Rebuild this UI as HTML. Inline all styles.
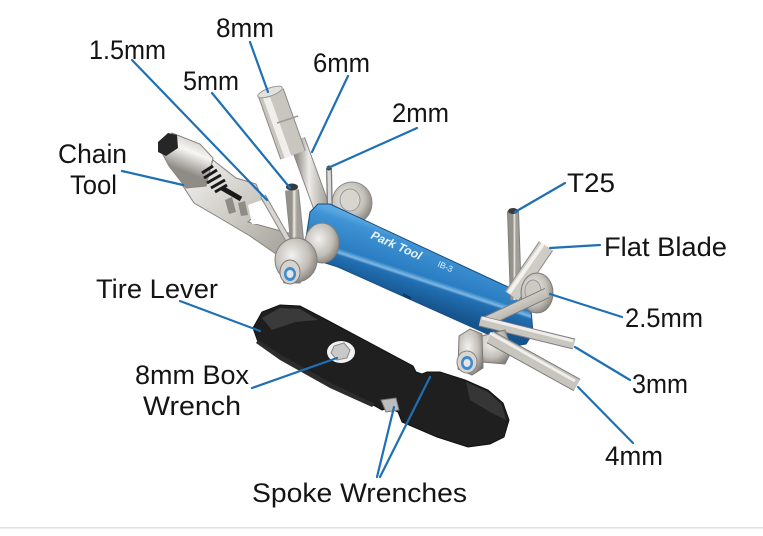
<!DOCTYPE html>
<html><head><meta charset="utf-8"><style>
html,body{margin:0;padding:0;background:#fff;}
svg{display:block;}
</style></head><body>
<svg width="763" height="536" viewBox="0 0 763 536" xmlns="http://www.w3.org/2000/svg">
<defs>
<linearGradient id="m" x1="0" y1="0" x2="1" y2="1">
<stop offset="0" stop-color="#f4f3f0"/><stop offset="0.45" stop-color="#cbc8c2"/><stop offset="1" stop-color="#8b8781"/>
</linearGradient>
<linearGradient id="m2" x1="0" y1="0" x2="1" y2="0">
<stop offset="0" stop-color="#95918b"/><stop offset="0.4" stop-color="#eeece8"/><stop offset="1" stop-color="#a39f98"/>
</linearGradient>
<linearGradient id="cyl" gradientUnits="userSpaceOnUse" x1="180" y1="135" x2="168" y2="165">
<stop offset="0" stop-color="#d9d6d0"/><stop offset="0.35" stop-color="#f7f6f3"/><stop offset="1" stop-color="#8f8b85"/>
</linearGradient>
<linearGradient id="bl" gradientUnits="userSpaceOnUse" x1="425" y1="240" x2="405" y2="300">
<stop offset="0" stop-color="#5aa8e2"/><stop offset="0.12" stop-color="#3f93d4"/><stop offset="0.55" stop-color="#2a7dc1"/><stop offset="0.62" stop-color="#7fb8e4"/><stop offset="0.66" stop-color="#2270b3"/><stop offset="1" stop-color="#16548e"/>
</linearGradient>
<radialGradient id="nut" cx="0.4" cy="0.4" r="0.7">
<stop offset="0" stop-color="#f3f2ef"/><stop offset="0.6" stop-color="#c2beb7"/><stop offset="1" stop-color="#7a766f"/>
</radialGradient>
</defs>

<rect x="0" y="0" width="763" height="536" fill="#fff"/>
<rect x="0" y="527" width="763" height="1.5" fill="#e2e2e2"/>

<!-- top hub behind body -->
<ellipse cx="352" cy="203" rx="20" ry="21" fill="url(#nut)" stroke="#8a8a8a" stroke-width="1"/>
<ellipse cx="350" cy="200" rx="10" ry="11" fill="#d8d5cf" stroke="#999" stroke-width="1"/>

<!-- 8mm socket + 6mm key -->
<line x1="297" y1="140" x2="327" y2="222" stroke="#858585" stroke-width="17"/>
<line x1="297" y1="140" x2="327" y2="222" stroke="url(#m2)" stroke-width="15"/>
<line x1="271" y1="93" x2="293" y2="155" stroke="#8a8a8a" stroke-width="27"/>
<line x1="271" y1="93" x2="293" y2="155" stroke="#c9c5bf" stroke-width="25"/>
<line x1="266" y1="96" x2="288" y2="157" stroke="#f0efec" stroke-width="7"/>
<line x1="277" y1="123" x2="298" y2="116" stroke="#9a9a9a" stroke-width="1.5"/>
<ellipse cx="270" cy="92" rx="13" ry="4" transform="rotate(-20 270 92)" fill="#e3e1dd" stroke="#999" stroke-width="1"/>

<!-- 2mm key -->
<line x1="329" y1="168" x2="330" y2="218" stroke="#777" stroke-width="6"/>
<line x1="329" y1="168" x2="330" y2="218" stroke="#d9d9d9" stroke-width="3.5"/>
<circle cx="329" cy="168" r="2.5" fill="#444"/>

<!-- chain tool frame -->
<path d="M183,186 L203,186 L213,160 L236,178 L256,184 L263,200 L258,213 L248,222 L270,228 L292,234 L310,242 L312,262 L300,283 L284,283 L276,254 L250,236 L218,217 L194,203 Z" fill="url(#m)" stroke="#86827c" stroke-width="1"/>
<path d="M248,205 L262,200 L268,224 L252,224 Z" fill="#fff"/>
<path d="M225,200 L232,197 L236,212 L229,214 Z" fill="#8f8b85"/>
<path d="M238,203 L245,201 L248,215 L241,216 Z" fill="#8f8b85"/>
<!-- chain tool cylinder -->
<path d="M161,151 L172,133 L200,144 L213,158 L206,186 L186,188 L169,166 Z" fill="url(#cyl)" stroke="#86827c" stroke-width="1"/>
<path d="M158,142 L168,133 L177,135 L178,148 L166,156 L158,152 Z" fill="#262626"/>
<g stroke="#1a1a1a" stroke-width="3">
<line x1="202" y1="173" x2="213" y2="166"/><line x1="204" y1="178" x2="217" y2="170"/><line x1="207" y1="183" x2="221" y2="175"/><line x1="211" y1="188" x2="225" y2="180"/><line x1="215" y1="192" x2="227" y2="185"/>
</g>
<line x1="222" y1="188" x2="241" y2="199" stroke="#1a1a1a" stroke-width="5"/>

<!-- 1.5mm key -->
<line x1="263" y1="196" x2="291" y2="245" stroke="#888" stroke-width="6"/>
<line x1="263" y1="196" x2="291" y2="245" stroke="#d8d5d0" stroke-width="4"/>

<!-- 5mm key -->
<line x1="292" y1="190" x2="297" y2="240" stroke="#888" stroke-width="14"/>
<line x1="292" y1="190" x2="297" y2="240" stroke="url(#m2)" stroke-width="12"/>
<ellipse cx="292" cy="187" rx="6" ry="3.5" fill="#3a3a3a"/>

<!-- blue body -->
<path d="M310,212 L318,204 L330,204 L508,287 L523,296 L531,310 L533,333 L526,344 L514,346 L338,267 L322,262 L306,238 Z" fill="url(#bl)" stroke="#154d82" stroke-width="1"/>
<path d="M403,293 L411,297 L411,300 L403,296 Z" fill="#0f3c66"/>
<text x="0" y="0" transform="translate(370,238) rotate(24)" font-family="Liberation Sans, sans-serif" font-style="italic" font-weight="bold" font-size="12" fill="#e8f3fb">Park Tool</text>
<text x="0" y="0" transform="translate(437,266) rotate(24)" font-family="Liberation Sans, sans-serif" font-size="8.5" fill="#e8f3fb">IB-3</text>

<!-- left pivot -->
<ellipse cx="322" cy="243" rx="17" ry="20" fill="url(#nut)" stroke="#7d7d7d" stroke-width="1"/>
<ellipse cx="296" cy="260" rx="21" ry="22" fill="url(#nut)" stroke="#808080" stroke-width="1"/>
<ellipse cx="290" cy="272" rx="10" ry="12" fill="#d6d3cd" stroke="#7a7a7a" stroke-width="1"/>
<ellipse cx="290" cy="274" rx="6" ry="7" fill="#3d8bd0"/>
<ellipse cx="290" cy="274" rx="3.5" ry="4" fill="#e6e6e6"/>

<!-- right cluster -->
<line x1="513" y1="211" x2="516" y2="300" stroke="#7e7e7e" stroke-width="12"/>
<line x1="513" y1="211" x2="516" y2="300" stroke="url(#m2)" stroke-width="10"/>
<ellipse cx="513" cy="211" rx="5" ry="3" fill="#3a3a3a"/>
<line x1="546" y1="246" x2="512" y2="296" stroke="#8a8a8a" stroke-width="17"/>
<line x1="546" y1="246" x2="512" y2="296" stroke="#cfccc6" stroke-width="15"/>
<line x1="543" y1="244" x2="509" y2="293" stroke="#f2f1ee" stroke-width="4"/>
<ellipse cx="537" cy="293" rx="16" ry="20" fill="url(#nut)" stroke="#7b7b7b" stroke-width="1"/>
<ellipse cx="533" cy="291" rx="8" ry="11" fill="#cdcac4" stroke="#999" stroke-width="1"/>

<line x1="547" y1="293" x2="483" y2="323" stroke="#7d7d7d" stroke-width="11"/>
<line x1="547" y1="293" x2="483" y2="323" stroke="url(#m)" stroke-width="9"/>
<line x1="574" y1="344" x2="480" y2="321" stroke="#7d7d7d" stroke-width="11"/>
<line x1="574" y1="344" x2="480" y2="321" stroke="#c9c6c0" stroke-width="9"/>
<line x1="573" y1="341" x2="482" y2="318" stroke="#efeeeb" stroke-width="3"/>
<path d="M478,337 L505,330 L512,350 L505,364 L482,362 Z" fill="url(#nut)" stroke="#7d7d7d" stroke-width="1"/>
<line x1="577" y1="385" x2="490" y2="337" stroke="#7d7d7d" stroke-width="14"/>
<line x1="577" y1="385" x2="490" y2="337" stroke="#c8c5bf" stroke-width="12"/>
<line x1="575" y1="381" x2="490" y2="333" stroke="#f0efec" stroke-width="3"/>

<path d="M459,336 L470,329 L482,334 L483,368 L472,375 L458,369 Z" fill="url(#nut)" stroke="#7a7a7a" stroke-width="1"/>
<ellipse cx="467" cy="362" rx="10" ry="11" fill="#d9d6d0" stroke="#858585" stroke-width="1"/>
<ellipse cx="467" cy="363" rx="6" ry="7" fill="#3d8bd0"/>
<ellipse cx="467" cy="363" rx="3.5" ry="4" fill="#e6e6e6"/>

<!-- tire lever -->
<path d="M253,328 L262,312 L280,305 L300,306 L323,318 L413,366 L416,372 L422,374 L427,372 L440,372 L465,380 L488,390 L503,403 L509,420 L504,437 L490,444 L468,447 L437,437 L402,422 L398,412 L390,408 L382,410 L375,406 L333,386 L283,358 L258,342 Z" fill="#1f1f1f" stroke="#111" stroke-width="1"/>
<path d="M262,318 L280,308 L300,309 L318,320 L295,322 L272,330 Z" fill="#3a3a3a"/>
<path d="M258,340 L283,356 L333,384 L375,404 L372,407 L330,388 L280,360 L256,343 Z" fill="#2c2c2c"/>
<path d="M466,382 L488,392 L502,405 L506,420 L490,412 L470,400 Z" fill="#363636"/>
<ellipse cx="341" cy="352" rx="14" ry="11" fill="#f2f2f2"/>
<polygon points="334,346 344,343 350,350 347,358 337,360 331,353" fill="#c9c9c9" stroke="#8a8a8a" stroke-width="1"/>
<path d="M381,400 L396,398 L399,410 L386,412 Z" fill="#bdbdbd" stroke="#777" stroke-width="1"/>

<!-- leader lines -->
<g stroke="#1f6fb5" stroke-width="2.2" fill="none" stroke-linecap="round">
<line x1="250" y1="42" x2="268" y2="92"/>
<line x1="132" y1="60" x2="267" y2="200"/>
<line x1="212" y1="93" x2="290" y2="188"/>
<line x1="348" y1="76" x2="312" y2="152"/>
<line x1="417" y1="128" x2="328" y2="168"/>
<line x1="122" y1="171" x2="183" y2="185"/>
<line x1="565" y1="183" x2="515" y2="212"/>
<line x1="600" y1="245" x2="550" y2="248"/>
<line x1="622" y1="317" x2="550" y2="294"/>
<line x1="630" y1="380" x2="575" y2="347"/>
<line x1="633" y1="443" x2="578" y2="387"/>
<line x1="180" y1="301" x2="260" y2="331"/>
<line x1="252" y1="388" x2="337" y2="358"/>
<line x1="377" y1="477" x2="394" y2="407"/>
<line x1="380" y1="477" x2="430" y2="377"/>
</g>

<!-- labels -->
<g font-family="Liberation Sans, sans-serif" font-size="27" fill="#141414">
<text x="216" y="37" textLength="58" lengthAdjust="spacingAndGlyphs">8mm</text>
<text x="89" y="59" textLength="77" lengthAdjust="spacingAndGlyphs">1.5mm</text>
<text x="183" y="90" textLength="56" lengthAdjust="spacingAndGlyphs">5mm</text>
<text x="313" y="72" textLength="57" lengthAdjust="spacingAndGlyphs">6mm</text>
<text x="392" y="122" textLength="57" lengthAdjust="spacingAndGlyphs">2mm</text>
<text x="58" y="163" textLength="69" lengthAdjust="spacingAndGlyphs">Chain</text>
<text x="70" y="194" textLength="47" lengthAdjust="spacingAndGlyphs">Tool</text>
<text x="567" y="192" textLength="48" lengthAdjust="spacingAndGlyphs">T25</text>
<text x="604" y="256" textLength="123" lengthAdjust="spacingAndGlyphs">Flat Blade</text>
<text x="625" y="327" textLength="78" lengthAdjust="spacingAndGlyphs">2.5mm</text>
<text x="632" y="393" textLength="56" lengthAdjust="spacingAndGlyphs">3mm</text>
<text x="605" y="465" textLength="58" lengthAdjust="spacingAndGlyphs">4mm</text>
<text x="96" y="298" textLength="122" lengthAdjust="spacingAndGlyphs">Tire Lever</text>
<text x="135" y="384" textLength="114" lengthAdjust="spacingAndGlyphs">8mm Box</text>
<text x="143" y="415" textLength="98" lengthAdjust="spacingAndGlyphs">Wrench</text>
<text x="252" y="502" textLength="215" lengthAdjust="spacingAndGlyphs">Spoke Wrenches</text>
</g>
</svg>
</body></html>
